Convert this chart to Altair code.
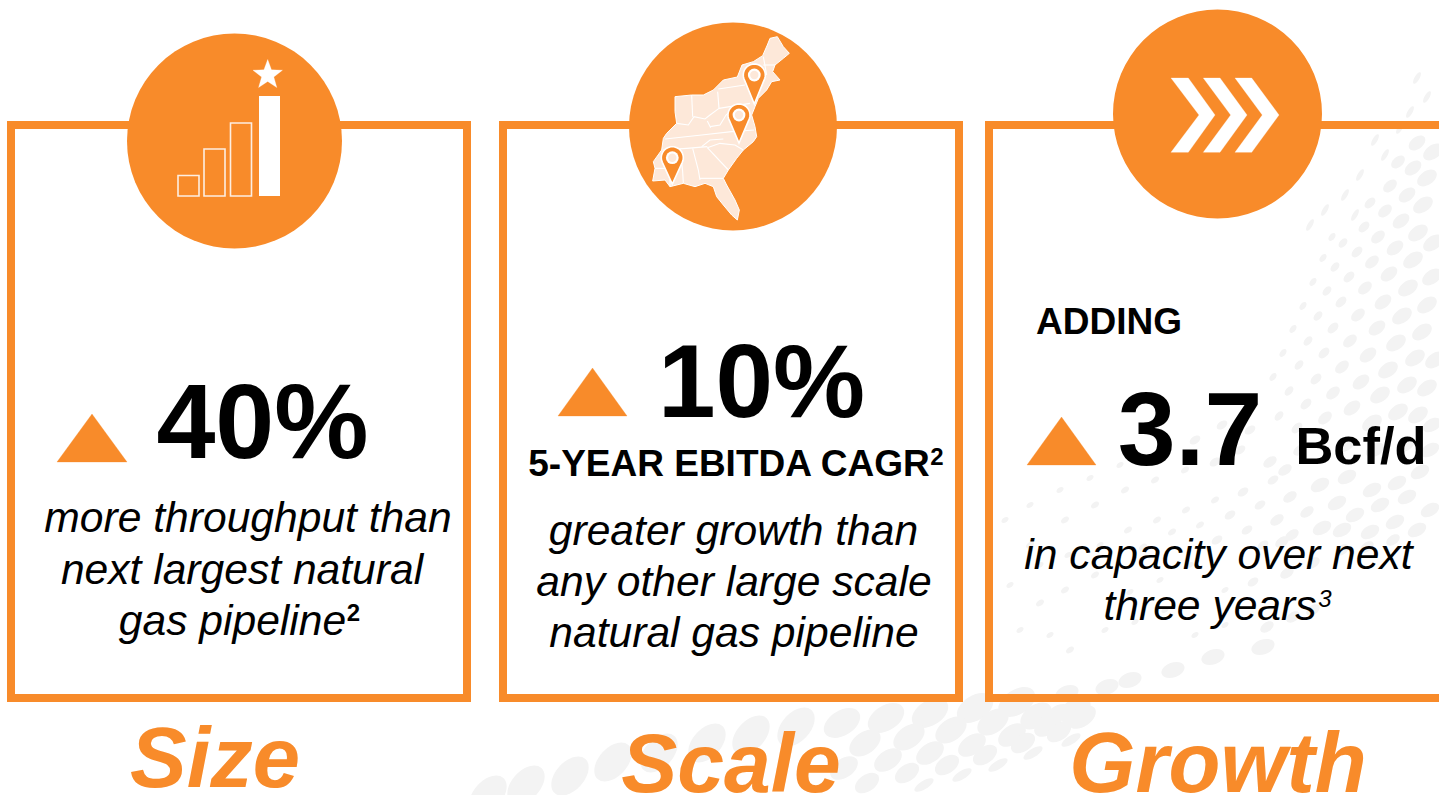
import math
import altair as alt

ORANGE = "#f88b2a"
LAND = "#fde8d9"
DOT = "#f3f3f3"
FONT = "Liberation Sans"
W, H = 1439, 795

# Halftone backdrop: each group is (major axis, tilt, centres)
dots_far_right = [
    (22, 325, [(1433, 152), (1427, 178), (1423, 205), (1418, 233), (1413, 260), (1408, 288), (1402, 316), (1396, 343), (1388, 370), (1380, 395), (1372, 423), (1433, 243), (1432, 277), (1427, 305), (1422, 332), (1415, 358), (1407, 385), (1398, 412), (1435, 360), (1427, 388), (1418, 415)]),
    (19, 322, [(1417, 143), (1413, 168), (1407, 195), (1401, 221), (1395, 248), (1389, 274), (1383, 302), (1377, 328), (1368, 355), (1361, 382), (1352, 408)]),
    (16, 318, [(1398, 162), (1390, 186), (1385, 211), (1378, 237), (1372, 262), (1365, 288), (1358, 315), (1350, 341), (1342, 367), (1333, 393), (1325, 418)]),
    (13, 315, [(1370, 203), (1364, 227), (1357, 252), (1349, 277), (1341, 302), (1333, 328), (1324, 353), (1316, 379), (1306, 404), (1297, 428)]),
    (11, 312, [(1343, 243), (1335, 267), (1327, 291), (1318, 316), (1308, 341), (1299, 365), (1289, 391), (1279, 416)]),
    (9, 310, [(1332, 237), (1323, 258), (1313, 282), (1303, 306), (1293, 329), (1283, 353), (1273, 377)]),
    (20, 330, [(1320, 485), (1347, 477), (1372, 490), (1397, 483), (1420, 472), (1337, 503), (1355, 515), (1380, 505), (1407, 497), (1430, 510), (1322, 528), (1342, 530), (1370, 532), (1395, 522), (1417, 530), (1430, 450), (1405, 445), (1375, 450), (1345, 445), (1432, 425)]),
    (15, 325, [(1290, 497), (1307, 512), (1277, 520), (1292, 535), (1282, 542), (1313, 563), (1342, 550), (1367, 547), (1393, 540), (1287, 573), (1267, 627), (1293, 617), (1313, 610), (1300, 450), (1270, 462), (1285, 470)]),
    (12, 325, [(1260, 505), (1273, 480), (1243, 492), (1230, 515), (1247, 530), (1263, 545), (1253, 582), (1217, 540), (1240, 450), (1215, 462), (1250, 430), (1222, 425), (1195, 440), (1165, 455)]),
    (9, 325, [(1215, 500), (1186, 510), (1157, 520), (1128, 530), (1200, 525), (1172, 532), (1143, 547), (1185, 470), (1155, 480), (1125, 490), (1095, 505), (1065, 520), (1095, 575), (1065, 590), (1040, 603), (1070, 650), (1030, 545)]),
    (8, 325, [(1225, 590), (1195, 600), (1165, 610), (1135, 622), (1105, 630), (1190, 565), (1160, 580), (1130, 592), (1100, 545), (1068, 555), (1040, 565), (1120, 465), (1090, 478), (1060, 490), (1030, 505), (1005, 520), (1010, 585), (1020, 630), (1050, 635), (1195, 635), (1225, 625)]),
]
dots_lower_band = [
    (46, 312, [(488, 795), (526, 785), (570, 776), (613, 762), (659, 753), (707, 743), (751, 735), (796, 727)]),
    (40, 328, [(842, 723), (886, 718), (930, 713), (975, 708), (1017, 702)]),
    (35, 325, [(865, 743), (909, 737), (951, 730), (993, 722), (1036, 716), (1075, 710)]),
    (31, 325, [(844, 768), (888, 760), (930, 753), (972, 745), (1012, 735), (1048, 725), (1082, 717)]),
    (27, 325, [(867, 783), (907, 773), (947, 765), (985, 755), (1023, 743), (1059, 732)]),
    (24, 340, [(1107, 687), (1067, 693), (1130, 680), (1173, 670), (1213, 657), (1263, 647), (1010, 705), (1060, 712)]),
]
dots_streaks = [
    (13, 300, [(1410, 112), (1427, 97), (1417, 78), (1385, 155), (1375, 140), (1400, 128), (1360, 175), (1345, 195), (1355, 215), (1310, 225), (1325, 210)]),
    (22, 328, [(924, 785), (962, 775), (998, 765), (1033, 753), (1071, 740)]),
]

# Bordered panels: left, top, right, bottom
panels = [(11, 125, 467, 698), (503, 125, 959, 698), (989, 125, 1470, 698)]

# Icon discs: centre x, centre y, radius
discs = [(234.5, 141, 107.5), (733, 126.5, 104), (1217.5, 114, 104.5)]

# Bar icon: left, top, right, bottom
bars_outlined = [(178, 175.5, 199, 196), (204, 149, 225, 196), (230.5, 123, 251.5, 196)]
bar_solid = (259, 96, 280, 196)
star = (267.7, 75, 15.5, 6.4)

# Chevron icon: top-left x, top-right x, tip-inner x, tip-outer x
chevrons = [(1171, 1188.3, 1199, 1215), (1203.3, 1220, 1230.7, 1247), (1235, 1251.7, 1262.3, 1279)]
chevron_top, chevron_mid, chevron_bottom = 78, 115, 152.3

# Up-pointing markers: left x, right x, apex x, apex y, base y
triangles = [(57, 127, 92, 414, 462), (558, 627, 592.5, 368, 416), (1027, 1096, 1061.5, 417, 465)]

# Map icon, drawn in thirds of a pixel from the origin below
map_origin = (620, 15)
map_outline = [(165, 245), (215, 240), (250, 240), (280, 225), (310, 195), (352, 186), (366, 150), (400, 140), (428, 122), (442, 90), (450, 70), (472, 65), (490, 95), (508, 115), (490, 130), (465, 150), (458, 170), (480, 195), (455, 200), (440, 225), (415, 250), (405, 275), (395, 300), (405, 335), (410, 365), (400, 380), (370, 405), (350, 430), (325, 465), (310, 490), (320, 510), (345, 555), (358, 585), (352, 615), (335, 600), (310, 570), (290, 545), (280, 515), (255, 505), (225, 515), (190, 505), (150, 515), (135, 495), (98, 498), (105, 460), (100, 440), (125, 405), (130, 370), (140, 355), (170, 325), (165, 290)]
map_borders = [
    [(215, 240), (218, 305)],
    [(293, 230), (297, 280)],
    [(295, 222), (375, 210)],
    [(170, 325), (205, 330), (222, 305), (255, 312), (270, 300), (297, 280)],
    [(297, 280), (390, 265)],
    [(135, 372), (245, 360), (335, 350), (402, 345)],
    [(262, 318), (272, 338)],
    [(270, 335), (300, 330), (318, 300), (330, 290)],
    [(128, 405), (200, 400), (262, 395)],
    [(245, 395), (270, 375), (310, 372)],
    [(262, 398), (300, 385), (345, 390), (370, 405)],
    [(218, 400), (235, 465), (240, 495)],
    [(262, 398), (325, 465)],
    [(240, 490), (310, 490)],
    [(180, 402), (188, 470), (190, 505)],
    [(105, 460), (150, 460), (150, 515)],
    [(430, 125), (440, 180)],
    [(430, 150), (465, 150)],
]

# Location pins: head x, head y, head radius, tip y
pins = [(754.3, 75, 11, 104), (739, 115, 11, 143), (672.3, 157.7, 11, 184)]

# Text runs: x, baseline y, string, size, bold, italic, colour
texts = [
    (262.5, 458, "40%", 106, True, False, "#000000"),
    (761.5, 417, "10%", 103.5, True, False, "#000000"),
    (1190, 465, "3.7", 104, True, False, "#000000"),
    (1361, 464, "Bcf/d", 52.5, True, False, "#000000"),
    (1109, 334, "ADDING", 37, True, False, "#000000"),
    (729, 476, "5-YEAR EBITDA CAGR", 37, True, False, "#000000"),
    (937, 465, "2", 24, True, False, "#000000"),
    (248, 532, "more throughput than", 42.6, False, True, "#000000"),
    (242, 584, "next largest natural", 42.6, False, True, "#000000"),
    (232.5, 635, "gas pipeline", 42.6, False, True, "#000000"),
    (353.5, 621, "2", 24, True, False, "#000000"),
    (733.5, 545, "greater growth than", 42.6, False, True, "#000000"),
    (734, 596, "any other large scale", 42.6, False, True, "#000000"),
    (734, 647, "natural gas pipeline", 42.6, False, True, "#000000"),
    (1218.5, 569, "in capacity over next", 42.6, False, True, "#000000"),
    (1210, 620, "three years", 42.6, False, True, "#000000"),
    (1325, 607, "3", 24, False, True, "#000000"),
    (215, 787, "Size", 85, True, True, ORANGE),
    (731, 792, "Scale", 84, True, True, ORANGE),
    (1218, 792, "Growth", 85, True, True, ORANGE),
]

X = alt.X("x:Q", scale=alt.Scale(domain=[0, W], nice=False, zero=False), axis=None)
Y = alt.Y("y:Q", scale=alt.Scale(domain=[0, H], reverse=True, nice=False, zero=False), axis=None)
ELLIPSE = "M-1,0A1,0.62,0,1,1,1,0A1,0.62,0,1,1,-1,0Z"
SLIM = "M-1,0A1,0.38,0,1,1,1,0A1,0.38,0,1,1,-1,0Z"


def dot_layer(groups, shape):
    rows = [{"x": x, "y": y, "s": major ** 2, "a": tilt}
            for major, tilt, centres in groups for x, y in centres]
    return alt.Chart(alt.Data(values=rows)).mark_point(
        filled=True, shape=shape, color=DOT, opacity=1, clip=True
    ).encode(x=X, y=Y, size=alt.Size("s:Q", scale=None), angle=alt.Angle("a:Q", scale=None))


def boxes(rows, **style):
    values = [{"x": a, "y": b, "x2": c, "y2": d} for a, b, c, d in rows]
    return alt.Chart(alt.Data(values=values)).mark_rect(clip=True, **style).encode(
        x=X, y=Y, x2="x2:Q", y2="y2:Q"
    )


def shapes(geometries, **style):
    features = [{"type": "Feature", "properties": {}, "geometry": g} for g in geometries]
    return alt.Chart(alt.Data(values=features)).mark_geoshape(**style).project(
        type="identity", scale=1, translate=[0, 0]
    )


def polygon(points):
    ring = [list(p) for p in points]
    return {"type": "Polygon", "coordinates": [ring + [ring[0]]]}


def map_xy(points):
    return [(map_origin[0] + px / 3, map_origin[1] + py / 3) for px, py in points]


def discs_layer(rows, color):
    # A circle symbol's size is the square of its diameter
    values = [{"x": x, "y": y, "s": (2 * r) ** 2} for x, y, r in rows]
    return alt.Chart(alt.Data(values=values)).mark_circle(color=color, opacity=1).encode(
        x=X, y=Y, size=alt.Size("s:Q", scale=None)
    )


def star_points(cx, cy, outer, inner):
    return [(cx + (outer if i % 2 == 0 else inner) * math.sin(i * math.pi / 5),
             cy - (outer if i % 2 == 0 else inner) * math.cos(i * math.pi / 5)) for i in range(10)]


def pin_points(x, y, r, tip):
    # Teardrop: head arc running over the top, closing at the tip
    spread = math.radians(65)
    steps = 28
    arc = [(x + r * math.sin(-math.pi + spread + i * (2 * math.pi - 2 * spread) / steps),
            y - r * math.cos(-math.pi + spread + i * (2 * math.pi - 2 * spread) / steps))
           for i in range(steps + 1)]
    return arc + [(x, tip)]


def text_layer(x, y, label, size, bold, italic, color):
    return alt.Chart(alt.Data(values=[{"x": x, "y": y, "t": label}])).mark_text(
        font=FONT, fontSize=size, fontWeight="bold" if bold else "normal",
        fontStyle="italic" if italic else "normal", color=color,
        align="center", baseline="alphabetic"
    ).encode(x=X, y=Y, text="t:N")


chevron_polys = [polygon([(a, chevron_top), (b, chevron_top), (d, chevron_mid), (b, chevron_bottom),
                          (a, chevron_bottom), (c, chevron_mid)]) for a, b, c, d in chevrons]
triangle_polys = [polygon([(l, b), (ax, ay), (r, b)]) for l, r, ax, ay, b in triangles]
border_lines = [{"type": "LineString", "coordinates": [list(p) for p in map_xy(line)]} for line in map_borders]

layers = [
    dot_layer(dots_lower_band, ELLIPSE),
    dot_layer(dots_far_right, ELLIPSE),
    dot_layer(dots_streaks, SLIM),
    boxes(panels, filled=False, stroke=ORANGE, strokeWidth=8),
    discs_layer(discs, ORANGE),
    boxes(bars_outlined, filled=False, stroke="#fdeee2", strokeWidth=1.6),
    boxes([bar_solid], color="#ffffff"),
    shapes([polygon(star_points(*star))], fill="#ffffff", stroke="#ffffff", strokeWidth=0.3),
    shapes(chevron_polys, fill="#ffffff", stroke="#ffffff", strokeWidth=0.3),
    shapes(triangle_polys, fill=ORANGE, stroke=ORANGE, strokeWidth=0.3),
    shapes([polygon(map_xy(map_outline))], fill=LAND, stroke="#ffffff", strokeWidth=1),
    shapes(border_lines, filled=False, fill="transparent", stroke="#ffffff", strokeWidth=1.1),
    shapes([polygon(pin_points(*p)) for p in pins], fill=ORANGE, stroke="#ffffff", strokeWidth=1.6),
    discs_layer([(x, y, 6.4) for x, y, _, _ in pins], "#ffffff"),
    discs_layer([(x, y, 4.2) for x, y, _, _ in pins], LAND),
] + [text_layer(*run) for run in texts]

chart = alt.layer(*layers).properties(
    width=W, height=H, padding=0, background="#ffffff", autosize=alt.AutoSizeParams(type="none")
).configure_view(stroke=None)

chart.save("out.html", embed_options={"renderer": "svg", "actions": False})
